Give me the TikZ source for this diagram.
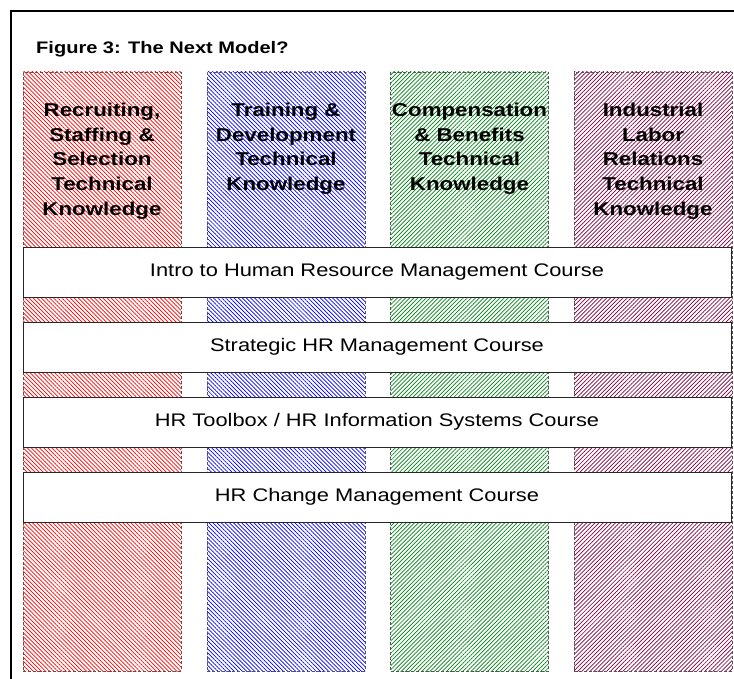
\documentclass[tikz,border=0pt]{standalone}
\usepackage{fontspec}
\setmainfont{Liberation Sans}
\usetikzlibrary{patterns.meta}

\definecolor{hatchred}{RGB}{255,0,0}
\definecolor{hatchblue}{RGB}{0,0,255}
\definecolor{hatchgreen}{RGB}{0,130,20}
\definecolor{hatchplum}{RGB}{128,0,64}
\definecolor{edgegray}{RGB}{85,85,85}

% horizontally widened text
\newcommand\wide[1]{\scalebox{1.2}[1]{#1}}

\tikzset{
  column/.style={draw=edgegray, dash pattern=on 3pt off 2pt, line width=0.9pt,
    inner sep=0pt, outer sep=0pt, minimum width=158pt, minimum height=599pt},
  backslashhatch/.style={pattern={Lines[angle=-45,distance=2.9pt,line width=0.7pt]}},
  slashhatch/.style={pattern={Lines[angle=45,distance=2.9pt,line width=0.7pt]}},
  colhead/.style={anchor=north, inner sep=0pt,
    font=\fontsize{18.6}{24.7}\selectfont\bfseries},
  coursebar/.style={draw=black!85, line width=0.9pt, fill=white,
    inner sep=0pt, minimum width=708pt, minimum height=50pt,
    font=\fontsize{18.2}{22}\selectfont},
}

\begin{document}
\begin{tikzpicture}[x=1pt,y=-1pt]
\useasboundingbox (0,0) rectangle (734,679);
\clip (0,0) rectangle (734,679);

% outer frame (open beyond the page on the right and bottom)
\draw[line width=2pt] (11,700) -- (11,11) -- (760,11);

% title
\node[anchor=base west, inner sep=0pt, font=\fontsize{16.7}{20}\selectfont\bfseries]
  (title) at (36,54) {\wide{Figure 3: The Next Model?}};

% four knowledge columns
\node[column, backslashhatch, pattern color=hatchred]   (colA) at (102,371.5) {};
\node[column, backslashhatch, pattern color=hatchblue]  (colB) at (286,371.5) {};
\node[column, slashhatch,     pattern color=hatchgreen] (colC) at (469.5,371.5) {};
\node[column, slashhatch,     pattern color=hatchplum]  (colD) at (653,371.5) {};

\node[colhead] (headA) at (102,99) {\wide{\begin{tabular}{@{}c@{}}Recruiting,\\ Staffing \&\\ Selection\\ Technical\\ Knowledge\end{tabular}}};
\node[colhead] (headB) at (286,99) {\wide{\begin{tabular}{@{}c@{}}Training \&\\ Development\\ Technical\\ Knowledge\end{tabular}}};
\node[colhead] (headC) at (469.5,99) {\wide{\begin{tabular}{@{}c@{}}Compensation\\ \& Benefits\\ Technical\\ Knowledge\end{tabular}}};
\node[colhead] (headD) at (653,99) {\wide{\begin{tabular}{@{}c@{}}Industrial\\ Labor\\ Relations\\ Technical\\ Knowledge\end{tabular}}};

% course bars laid across the columns
\node[coursebar] (intro)    at (377,272) {\wide{Intro to Human Resource Management Course}};
\node[coursebar] (strat)    at (377,347) {\wide{Strategic HR Management Course}};
\node[coursebar] (toolbox)  at (377,422) {\wide{HR Toolbox / HR Information Systems Course}};
\node[coursebar] (change)   at (377,497) {\wide{HR Change Management Course}};
\end{tikzpicture}
\end{document}
